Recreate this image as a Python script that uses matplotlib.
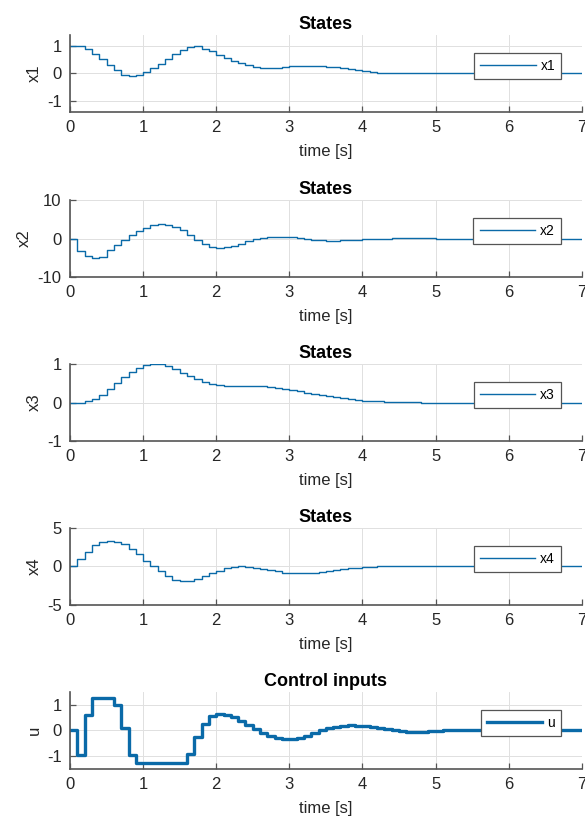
import numpy as np
from matplotlib import pyplot as plt

plt.rcParams['font.family'] = ['Liberation Sans', 'DejaVu Sans']
plt.rcParams['font.size'] = 12
plt.rcParams['axes.unicode_minus'] = False

# sample time 0.1 s, 0..7 s
t = np.round(np.arange(71) * 0.1, 1)

x1 = [1.00, 1.00, 0.88, 0.71, 0.52, 0.32, 0.14, -0.04, -0.10, -0.04,
      0.05, 0.20, 0.36, 0.52, 0.71, 0.85, 0.96, 0.99, 0.90, 0.80,
      0.68, 0.56, 0.46, 0.38, 0.30, 0.24, 0.21, 0.20, 0.21, 0.23,
      0.26, 0.28, 0.29, 0.28, 0.27, 0.25, 0.22, 0.19, 0.15, 0.11,
      0.08, 0.05, 0.03, 0.01, 0.00, 0.00, 0.00, 0.00, 0.00, 0.00,
      0.00, 0.00, 0.00, 0.00, 0.00, 0.00, 0.00, 0.00, 0.00, 0.00,
      0.00, 0.00, 0.00, 0.00, 0.00, 0.00, 0.00, 0.00, 0.00, 0.00,
      0.00]

x2 = [0.0, -3.2, -4.6, -5.0, -4.8, -2.9, -1.7, -0.5, 0.8, 1.9,
      2.8, 3.4, 3.7, 3.6, 3.1, 2.2, 1.0, -0.3, -1.5, -2.3,
      -2.5, -2.3, -1.9, -1.3, -0.7, -0.2, 0.2, 0.45, 0.5, 0.45,
      0.3, 0.1, -0.1, -0.3, -0.45, -0.55, -0.55, -0.5, -0.4, -0.3,
      -0.2, -0.12, -0.05, 0.0, 0.02, 0.03, 0.03, 0.02, 0.02, 0.01,
      0.0, 0.0, 0.0, 0.0, 0.0, 0.0, 0.0, 0.0, 0.0, 0.0,
      0.0, 0.0, 0.0, 0.0, 0.0, 0.0, 0.0, 0.0, 0.0, 0.0,
      0.0]

x3 = [0.00, 0.00, 0.03, 0.10, 0.20, 0.34, 0.50, 0.65, 0.80, 0.90,
      0.97, 1.00, 0.99, 0.94, 0.86, 0.77, 0.68, 0.60, 0.53, 0.48,
      0.45, 0.44, 0.43, 0.43, 0.43, 0.43, 0.42, 0.41, 0.38, 0.36,
      0.33, 0.30, 0.26, 0.23, 0.20, 0.17, 0.14, 0.11, 0.08, 0.06,
      0.05, 0.04, 0.03, 0.02, 0.02, 0.01, 0.01, 0.01, 0.00, 0.00,
      0.00, 0.00, 0.00, 0.00, 0.00, 0.00, 0.00, 0.00, 0.00, 0.00,
      0.00, 0.00, 0.00, 0.00, 0.00, 0.00, 0.00, 0.00, 0.00, 0.00,
      0.00]

x4 = [0.0, 1.0, 1.85, 2.8, 3.15, 3.26, 3.2, 2.9, 2.3, 1.6,
      0.7, 0.1, -0.6, -1.2, -1.7, -1.9, -1.85, -1.6, -1.3, -0.9,
      -0.55, -0.25, -0.05, 0.0, -0.05, -0.2, -0.35, -0.5, -0.65, -0.8,
      -0.88, -0.9, -0.88, -0.82, -0.72, -0.6, -0.48, -0.36, -0.25, -0.15,
      -0.08, -0.03, 0.0, 0.02, 0.03, 0.03, 0.03, 0.02, 0.02, 0.01,
      0.01, 0.0, 0.0, 0.0, 0.0, 0.0, 0.0, 0.0, 0.0, 0.0,
      0.0, 0.0, 0.0, 0.0, 0.0, 0.0, 0.0, 0.0, 0.0, 0.0,
      0.0]

u = [0.0, -0.95, 0.6, 1.25, 1.25, 1.25, 1.0, 0.1, -0.95, -1.28,
     -1.28, -1.28, -1.28, -1.28, -1.28, -1.28, -0.9, -0.25, 0.25, 0.55,
     0.63, 0.6, 0.52, 0.38, 0.2, 0.05, -0.1, -0.2, -0.28, -0.32,
     -0.32, -0.28, -0.2, -0.1, 0.0, 0.08, 0.14, 0.18, 0.2, 0.19,
     0.16, 0.12, 0.08, 0.04, 0.01, -0.02, -0.04, -0.05, -0.05, -0.03,
     -0.01, 0.0, 0.0, 0.0, 0.0, 0.0, 0.0, 0.0, 0.0, 0.0,
     0.0, 0.0, 0.0, 0.0, 0.0, 0.0, 0.0, 0.0, 0.0, 0.0,
     0.0]

series = [x1, x2, x3, x4, u]
names = ['x1', 'x2', 'x3', 'x4', 'u']
titles = ['States', 'States', 'States', 'States', 'Control inputs']
ylims = [(-1.4, 1.4), (-10, 10), (-1, 1), (-5, 5), (-1.5, 1.5)]
yticks = [[-1, 0, 1], [-10, 0, 10], [-1, 0, 1], [-5, 0, 5], [-1, 0, 1]]

bottoms = [0.8639, 0.6634, 0.4641, 0.2649, 0.0656]

line_col = '#0a6aa8'
ax_col = '#555555'
txt_col = '#262626'

fig = plt.figure(figsize=(5.85, 8.23), dpi=100)

for i in range(5):
    ax = fig.add_axes([0.1197, bottoms[i], 0.8747, 0.0936])
    lw = 2.4 if names[i] == 'u' else 1.0
    ax.step(t, series[i], where='post', color=line_col, lw=lw, label=names[i])
    ax.set_xlim(0, 7)
    ax.set_ylim(*ylims[i])
    ax.set_xticks(range(8))
    ax.set_yticks(yticks[i])
    ax.grid(True, color='#e0e0e0', lw=0.7)
    ax.set_axisbelow(True)
    for s in ['top', 'right']:
        ax.spines[s].set_visible(False)
    for s in ['left', 'bottom']:
        ax.spines[s].set_color(ax_col)
        ax.spines[s].set_linewidth(1.2)
    ax.tick_params(direction='in', length=4, width=0.9, color=ax_col,
                   labelcolor=txt_col, labelsize=12, pad=6)
    ax.set_title(titles[i], fontsize=13, fontweight='bold', color='black', pad=4)
    ax.set_xlabel('time [s]', color=txt_col, labelpad=6)
    ax.set_ylabel(names[i], color=txt_col)
    leg = ax.legend(loc='center right', bbox_to_anchor=(0.96, 0.595),
                    fontsize=10, fancybox=False, framealpha=1,
                    edgecolor='#555555', handlelength=4.0,
                    handletextpad=0.35, borderpad=0.45, borderaxespad=0)
    leg.get_frame().set_linewidth(0.9)

fig.savefig('out.png', dpi=100)
